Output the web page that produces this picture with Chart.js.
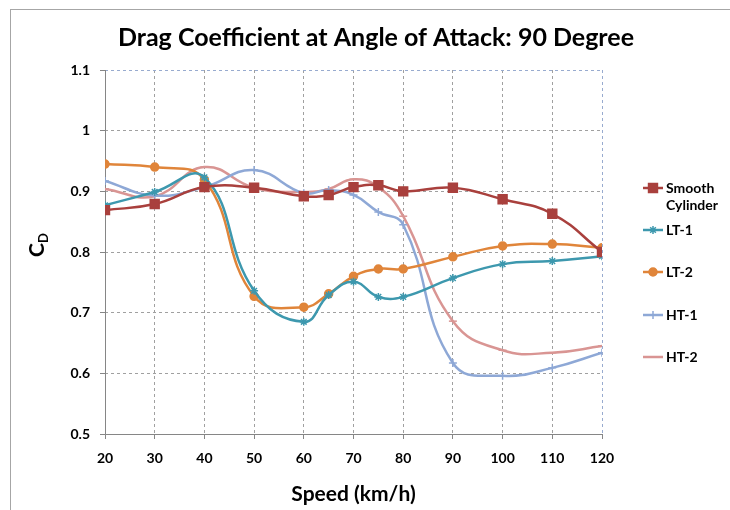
<!DOCTYPE html>
<html>
<head>
<meta charset="utf-8">
<script src="https://cdn.jsdelivr.net/npm/chart.js@4.4.1/dist/chart.umd.min.js"></script>
<style>
  html, body { margin: 0; padding: 0; background: #fff; overflow: hidden; }
  #wrap {
    position: absolute; left: 10px; top: 9px;
    width: 720px; height: 501px;
    border-left: 1px solid #a6a6a6; border-top: 1px solid #a6a6a6;
  }
  canvas { display: block; }
</style>
</head>
<body>
<div id="wrap"><canvas id="cd-chart" width="720" height="501"></canvas></div>
<script>
// speed (km/h)
const speeds = [20, 30, 40, 50, 60, 65, 70, 75, 80, 90, 100, 110, 120];

const smoothCyl = [0.869, 0.879, 0.907, 0.906, 0.892, 0.894, 0.907, 0.910, 0.900, 0.906, 0.887, 0.863, 0.800];
const lt1 = [0.877, 0.899, 0.923, 0.736, 0.685, 0.729, 0.751, 0.726, 0.726, 0.757, 0.780, 0.785, 0.793];
const lt2 = [0.945, 0.940, 0.919, 0.727, 0.709, 0.731, 0.760, 0.772, 0.772, 0.792, 0.810, 0.813, 0.807];
const ht1 = [0.917, 0.893, 0.907, 0.935, 0.897, 0.902, 0.894, 0.866, 0.845, 0.617, 0.596, 0.609, 0.634];
const ht2 = [0.904, 0.892, 0.940, 0.906, 0.899, 0.904, 0.920, 0.907, 0.859, 0.686, 0.638, 0.634, 0.645];

const yTicks = [0.5, 0.6, 0.7, 0.8, 0.9, 1, 1.1];
const xTicks = [20, 30, 40, 50, 60, 70, 80, 90, 100, 110, 120];

const FONT = "Lato, 'Open Sans', sans-serif";

function pts(vals) {
  return speeds.map((s, i) => ({ x: s, y: vals[i] }));
}

function series(label, vals, color, style, radius) {
  return {
    label: label,
    data: pts(vals),
    borderColor: color,
    backgroundColor: color,
    borderWidth: 2.5,
    tension: 0.45,
    pointStyle: style,
    pointRadius: radius,
    pointBorderWidth: 1.5,
    pointBorderColor: color,
    pointBackgroundColor: color
  };
}

// title, y title with subscript, solid axis lines and the legend on the right
const extras = {
  id: 'extras',
  beforeDatasetsDraw(chart) {
    const ctx = chart.ctx;
    const a = chart.chartArea;
    ctx.save();
    ctx.strokeStyle = '#868686';
    ctx.lineWidth = 1;
    ctx.setLineDash([]);
    ctx.beginPath();
    ctx.moveTo(a.left + 0.5, a.top);
    ctx.lineTo(a.left + 0.5, a.bottom + 0.5);
    ctx.lineTo(a.right, a.bottom + 0.5);
    ctx.stroke();
    ctx.restore();
  },
  afterDraw(chart) {
    const ctx = chart.ctx;
    ctx.save();
    ctx.fillStyle = '#000';
    ctx.font = "bold 25px " + FONT;
    ctx.textAlign = 'center';
    ctx.textBaseline = 'middle';
    ctx.fillText('Drag Coefficient at Angle of Attack: 90 Degree', 365, 28);

    // C with subscript D, rotated
    ctx.translate(26, 236);
    ctx.rotate(-Math.PI / 2);
    ctx.textAlign = 'left';
    ctx.textBaseline = 'alphabetic';
    ctx.font = "bold 21px " + FONT;
    ctx.fillText('C', -11, 7);
    const cw = ctx.measureText('C').width;
    ctx.font = "bold 13px " + FONT;
    ctx.fillText('D', -11 + cw, 11);
    ctx.restore();

    // legend
    const rows = [178, 220, 262, 305, 347];
    ctx.save();
    chart.data.datasets.forEach((ds, i) => {
      const y = rows[i];
      ctx.strokeStyle = ds.borderColor;
      ctx.lineWidth = 2.5;
      ctx.beginPath();
      ctx.moveTo(632, y);
      ctx.lineTo(652, y);
      ctx.stroke();
      ctx.fillStyle = ds.borderColor;
      ctx.lineWidth = 1.5;
      Chart.helpers.drawPoint(ctx, { pointStyle: ds.pointStyle, radius: ds.pointRadius, rotation: 0, borderWidth: 1.5 }, 642, y);
      ctx.fillStyle = '#000';
      ctx.font = "bold 14px " + FONT;
      ctx.textAlign = 'left';
      ctx.textBaseline = 'middle';
      const lines = i === 0 ? ['Smooth', 'Cylinder'] : [ds.label];
      lines.forEach((t, k) => ctx.fillText(t, 655, y + k * 17));
    });
    ctx.restore();
  }
};

const gridGray = '#a0a0a0';
const frameBlue = '#98abcf';

new Chart(document.getElementById('cd-chart'), {
  type: 'line',
  data: {
    datasets: [
      series('Smooth Cylinder', smoothCyl, '#a9403d', 'rect', 6.3),
      series('LT-1', lt1, '#3d98ae', 'star', 4),
      series('LT-2', lt2, '#e0853a', 'circle', 4),
      series('HT-1', ht1, '#8ea8d6', 'cross', 4),
      series('HT-2', ht2, '#d99593', 'line', 4)
    ]
  },
  options: {
    responsive: false,
    animation: false,
    layout: { padding: { top: 60, right: 129, left: 0, bottom: 0 } },
    plugins: {
      legend: { display: false },
      title: { display: false },
      tooltip: { enabled: false }
    },
    scales: {
      x: {
        type: 'linear',
        min: 20,
        max: 120,
        afterBuildTicks: (s) => { s.ticks = xTicks.map(v => ({ value: v })); },
        afterFit: (s) => { s.height = 77; },
        ticks: {
          color: '#000',
          font: { family: FONT, size: 14, weight: 'bold' },
          padding: 11,
          maxRotation: 0
        },
        grid: {
          color: (c) => (c.tick && c.tick.value === 120) ? frameBlue : gridGray,
          lineWidth: 1,
          tickLength: 5,
          tickColor: '#868686',
          tickBorderDash: []
        },
        border: { display: false, dash: [3, 3] },
        title: {
          display: true,
          text: 'Speed (km/h)',
          color: '#000',
          font: { family: FONT, size: 21, weight: 'bold' },
          padding: { top: 4 }
        }
      },
      y: {
        min: 0.5,
        max: 1.1,
        afterBuildTicks: (s) => { s.ticks = yTicks.map(v => ({ value: v })); },
        afterFit: (s) => { s.width = 94; },
        ticks: {
          color: '#000',
          font: { family: FONT, size: 14, weight: 'bold' },
          padding: 10,
          callback: (v) => String(+v.toFixed(1))
        },
        grid: {
          color: (c) => (c.tick && c.tick.value === 1.1) ? frameBlue : gridGray,
          lineWidth: 1,
          tickLength: 5,
          tickColor: '#868686',
          tickBorderDash: []
        },
        border: { display: false, dash: [3, 3] }
      }
    }
  },
  plugins: [extras]
});
</script>
</body>
</html>
